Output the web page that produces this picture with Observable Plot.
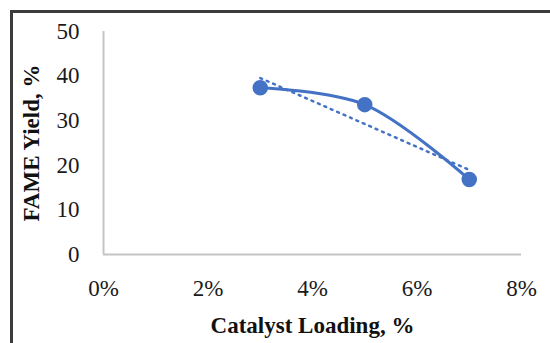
<!DOCTYPE html>
<html>
<head>
<meta charset="utf-8">
<script src="https://cdn.jsdelivr.net/npm/d3@7"></script>
<script src="https://cdn.jsdelivr.net/npm/@observablehq/plot@0.6"></script>
<style>
  html, body { margin: 0; padding: 0; background: #fff; }
  #wrap { position: relative; width: 550px; height: 343px; overflow: hidden; }
  #frame { position: absolute; left: 10px; top: 10px; width: 600px; height: 400px;
           border-top: 3px solid #3c3c3c; border-left: 3px solid #3c3c3c; box-sizing: border-box; }
  #chart { position: absolute; left: 0; top: 0; }
</style>
</head>
<body>
<div id="wrap"><div id="frame"></div><div id="chart"></div></div>
<script>
const loading = [3, 5, 7];            // Catalyst Loading, %
const fameYield = [37.4, 33.6, 16.8]; // FAME Yield, %
const xTicks = [0, 2, 4, 6, 8];
const yTicks = [0, 10, 20, 30, 40, 50];

const data = loading.map((x, i) => ({x, y: fameYield[i]}));
const blue = "#4472C4";

const chart = Plot.plot({
  width: 550,
  height: 343,
  marginLeft: 103,
  marginRight: 29,
  marginTop: 31,
  marginBottom: 89,
  style: {fontFamily: "'Liberation Serif', 'Times New Roman', serif", fontSize: "23px", color: "#1a1a1a", background: "transparent"},
  x: {domain: [0, 8], ticks: xTicks, tickFormat: d => d + "%", tickSize: 0, tickPadding: 24, label: null},
  y: {domain: [0, 50], ticks: yTicks, tickSize: 0, tickPadding: 24, label: null},
  marks: [
    Plot.ruleY([0], {stroke: "#c4c4c4", strokeWidth: 2}),
    Plot.ruleX([0], {stroke: "#c4c4c4", strokeWidth: 2}),
    Plot.axisX({ticks: xTicks, tickFormat: d => d + "%", tickSize: 0, tickPadding: 25, label: null, fontSize: 23}),
    Plot.axisY({ticks: yTicks, tickSize: 0, tickPadding: 24, label: null, fontSize: 23}),
    Plot.linearRegressionY(data, {x: "x", y: "y", ci: 0, stroke: blue, strokeWidth: 2.5, strokeDasharray: "2,5"}),
    Plot.line(data, {x: "x", y: "y", curve: "catmull-rom", stroke: blue, strokeWidth: 3}),
    Plot.dot(data, {x: "x", y: "y", r: 7, fill: blue, stroke: blue}),
    Plot.text(["Catalyst Loading, %"], {frameAnchor: "bottom", dy: 78, fontWeight: "bold", fontSize: 23, fill: "#111"}),
    Plot.text(["FAME Yield, %"], {frameAnchor: "left", textAnchor: "middle", dx: -72, rotate: -90, fontWeight: "bold", fontSize: 23, fill: "#111"})
  ]
});
document.getElementById("chart").appendChild(chart);
</script>
</body>
</html>
